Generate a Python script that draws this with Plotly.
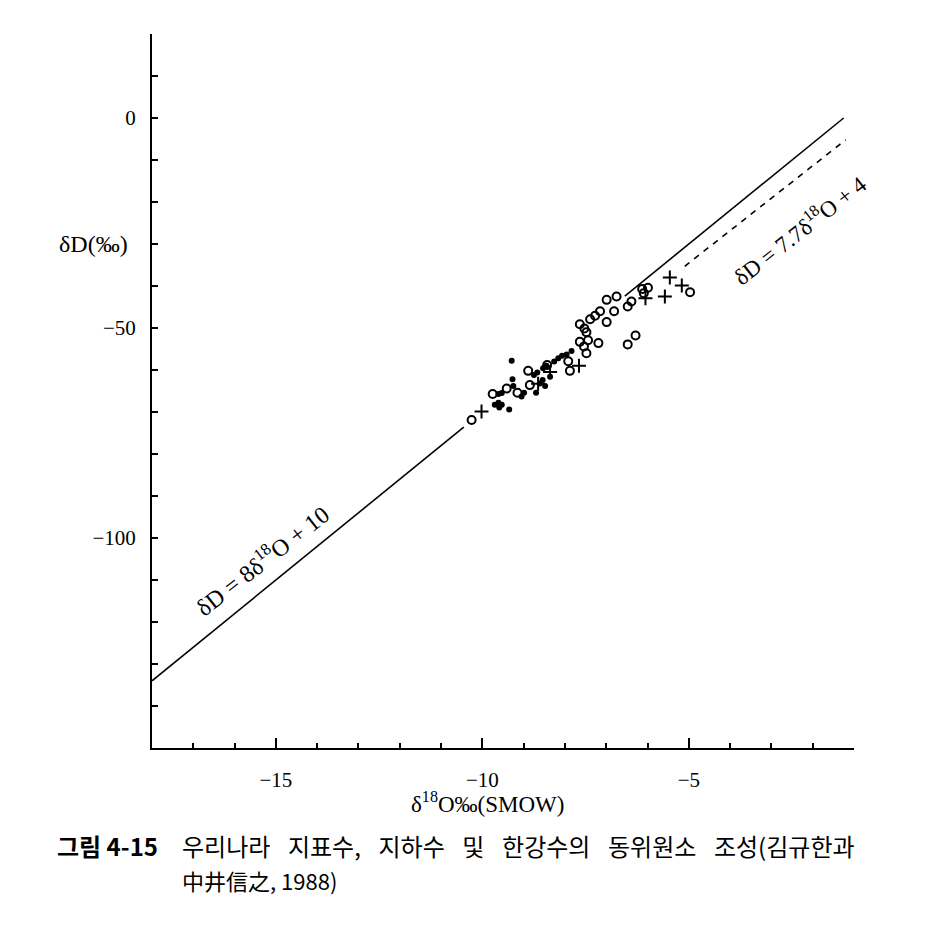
import plotly.graph_objects as go

# ---- data ----
open_x = [-10.26, -9.75, -9.41, -9.15, -8.85, -8.89, -8.43, -7.92, -7.88, -7.64,
          -7.44, -7.54, -7.48, -7.19, -7.64, -7.53, -7.48, -7.39, -7.27, -7.15,
          -6.99, -6.75, -6.81, -6.99, -6.48, -6.39, -6.48, -6.29, -6.13, -5.99,
          -6.09, -4.97]
open_y = [-71.9, -65.7, -64.4, -65.4, -63.6, -60.2, -58.8, -57.9, -60.2, -53.3,
          -52.9, -54.4, -56.0, -53.6, -49.1, -50.1, -51.0, -47.9, -47.1, -46.0,
          -43.3, -42.5, -46.0, -48.6, -44.9, -43.7, -53.9, -51.8, -40.7, -40.4,
          -41.7, -41.5]

filled_x = [-9.29, -9.61, -9.53, -9.27, -9.25, -9.70, -9.61, -9.59, -9.53, -9.35,
            -9.05, -8.99, -8.75, -8.67, -8.70, -8.61, -8.54, -8.48, -8.53, -8.45,
            -8.36, -8.26, -8.16, -8.07, -7.96, -7.84]
filled_y = [-57.8, -65.7, -65.5, -62.2, -63.8, -68.3, -67.8, -68.9, -68.3, -69.4,
            -66.3, -65.4, -61.2, -60.6, -65.4, -63.2, -62.4, -63.8, -59.6, -59.0,
            -61.6, -58.0, -57.2, -56.6, -56.3, -55.5]

cross_x = [-10.02, -8.65, -8.36, -7.66, -6.05, -5.58, -5.46, -5.17]
cross_y = [-69.9, -63.3, -60.5, -59.0, -42.9, -42.5, -38.0, -39.9]

# meteoric water line  dD = 8 d18O + 10 (two drawn pieces)
gmwl_left_x = [-18.0, -10.45]
gmwl_left_y = [-134.0, -73.6]
gmwl_right_x = [-6.55, -1.25]
gmwl_right_y = [-42.4, 0.0]
# local line dD = 7.7 d18O + 4 (dashed)
lmwl_x = [-5.1, -1.2]
lmwl_y = [-35.3, -5.2]

x_tick_vals = [-15, -10, -5, -1]
x_tick_text = ["\u221215", "\u221210", "\u22125", ""]
y_tick_vals = [0, -50, -100]
y_tick_text = ["0", "\u221250", "\u2212100"]

SERIF = "Liberation Serif"
CJK = "Noto Sans CJK KR"
SP = "\u00a0\u00a0\u00a0\u200a"

fig = go.Figure()
line_style = dict(color="black", width=1.6)
fig.add_trace(go.Scatter(x=gmwl_left_x, y=gmwl_left_y, mode="lines", line=line_style))
fig.add_trace(go.Scatter(x=gmwl_right_x, y=gmwl_right_y, mode="lines", line=line_style))
fig.add_trace(go.Scatter(x=lmwl_x, y=lmwl_y, mode="lines",
                         line=dict(color="black", width=1.6, dash="6px,6px")))
fig.add_trace(go.Scatter(x=open_x, y=open_y, mode="markers",
                         marker=dict(symbol="circle-open", size=8, color="black",
                                     line=dict(width=2, color="black"))))
fig.add_trace(go.Scatter(x=filled_x, y=filled_y, mode="markers",
                         marker=dict(symbol="circle", size=6, color="black")))
fig.add_trace(go.Scatter(x=cross_x, y=cross_y, mode="markers",
                         marker=dict(symbol="cross-thin", size=10, color="black",
                                     line=dict(width=2, color="black"))))

fig.update_layout(
    width=929, height=924,
    margin=dict(l=144, r=83, t=26, b=184),
    paper_bgcolor="white", plot_bgcolor="white",
    showlegend=False,
    font=dict(family=SERIF, size=21, color="black"),
    xaxis=dict(range=[-18, -1], showgrid=False, zeroline=False,
               showline=True, linecolor="black", linewidth=2,
               tickmode="array", tickvals=x_tick_vals, ticktext=x_tick_text,
               ticks="inside", ticklen=10, tickwidth=2, tickcolor="black",
               ticklabelstandoff=12, automargin=False,
               minor=dict(tickmode="linear", tick0=-18, dtick=1, ticks="inside",
                          ticklen=5, tickwidth=2, tickcolor="black", showgrid=False),
               tickfont=dict(family=SERIF, size=21)),
    yaxis=dict(range=[-150, 20], showgrid=False, zeroline=False,
               showline=True, linecolor="black", linewidth=2,
               tickmode="array", tickvals=y_tick_vals, ticktext=y_tick_text,
               ticks="inside", ticklen=6, tickwidth=2, tickcolor="black",
               ticklabelstandoff=10, automargin=False,
               minor=dict(tickmode="linear", tick0=20, dtick=10, ticks="inside",
                          ticklen=6, tickwidth=2, tickcolor="black", showgrid=False),
               tickfont=dict(family=SERIF, size=21)),
)

ann = []
ann.append(dict(x=-15.36, y=-105.2, xref="x", yref="y",
                text="\u03b4D = 8\u03b4<sup>18</sup>O + 10", showarrow=False,
                textangle=-38, font=dict(family=SERIF, size=24)))
ann.append(dict(x=-2.32, y=-26.5, xref="x", yref="y",
                text="\u03b4D = 7.7\u03b4<sup>18</sup>O + 4", showarrow=False,
                textangle=-38, font=dict(family=SERIF, size=23)))
ann.append(dict(x=0, y=-30, xref="paper", yref="y", xanchor="right",
                xshift=-22, text="\u03b4D(\u2030)", showarrow=False,
                font=dict(family=SERIF, size=24)))
ann.append(dict(x=0.478, y=0, xref="paper", yref="paper", yanchor="middle",
                yshift=-54, text="\u03b4<sup>18</sup>O\u2030(SMOW)", showarrow=False,
                font=dict(family=SERIF, size=23)))
ann.append(dict(x=-0.138, y=0, xref="paper", yref="paper", xanchor="left",
                yanchor="middle", yshift=-97, text="<b>그림 4-15</b>", showarrow=False,
                font=dict(family=CJK, size=24)))
ann.append(dict(x=0.04, y=0, xref="paper", yref="paper", xanchor="left",
                yanchor="middle", yshift=-97,
                text=SP.join(["우리나라", "지표수,", "지하수", "및", "한강수의",
                              "동위원소", "조성(김규한과"]),
                showarrow=False, font=dict(family=CJK, size=24)))
ann.append(dict(x=0.04, y=0, xref="paper", yref="paper", xanchor="left",
                yanchor="middle", yshift=-132, text="中井信之, 1988)",
                showarrow=False, font=dict(family=CJK, size=22)))
fig.update_layout(annotations=ann)

fig.write_html("out.html")
